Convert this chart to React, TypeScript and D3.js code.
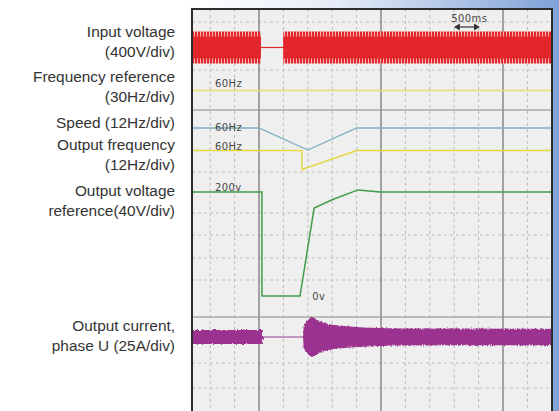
import React from "react";
import * as d3 from "d3";

// ---------- data ----------
// time in ms (0 = moment of supply loss, one minor division = 500 ms)
const timeDomain: [number, number] = [-1373, 6004];
const minorTicks = d3.range(-1000, 6001, 500);
const majorTicks = [0, 2500, 5000];

// input voltage: spans where the supply is present, peak volts
const supplySpans: [number, number][] = [[-1373, 40], [500, 6004]];
const inputPeakV = 310;

// frequency reference (Hz)
const freqRefT = [-1373, 6004];
const freqRefHz = [60, 60];

// speed (Hz)
const speedT = [-1373, 0, 1000, 2000, 6004];
const speedHz = [60, 60, 47.3, 60, 60];

// output frequency (Hz)
const outFreqT = [-1373, 880, 880, 2000, 6004];
const outFreqHz = [60, 60, 49, 60, 60];

// output voltage reference (V)
const voltT = [-1373, 60, 60, 840, 1130, 1520, 2030, 2480, 6004];
const voltV = [200, 200, 0, 0, 169, 186, 204, 200, 200];

// output current, phase U envelope (A peak)
const currentT = [-1373, 80, 80, 900, 920, 1000, 1086, 1200, 1400, 1800, 2300, 3000, 6004];
const currentA = [8.4, 8.4, 0, 0, 14, 20, 24, 20, 16, 13, 11, 10.2, 10];

const channelLabels = [
  ["Input voltage", "(400V/div)"],
  ["Frequency reference", "(30Hz/div)"],
  ["Speed (12Hz/div)"],
  ["Output frequency", "(12Hz/div)"],
  ["Output voltage", "reference(40V/div)"],
  ["Output current,", "phase U (25A/div)"],
];
const labelBaselines = [37, 82, 128, 150, 196, 331];

// ---------- layout ----------
const W = 559, H = 411;
const PL = 192, PR = 552, PT = 9;
const DIV = 20.8;

export default function App() {
  const x = d3.scaleLinear().domain(timeDomain).range([PL, PR]);
  const yIn = d3.scaleLinear().domain([0, 400]).range([47.5, 47.5 - DIV]);
  const yFreqRef = d3.scaleLinear().domain([60, 30]).range([90.5, 90.5 + DIV]);
  const ySpeed = d3.scaleLinear().domain([60, 48]).range([128, 128 + DIV]);
  const yOutF = d3.scaleLinear().domain([60, 48]).range([150.5, 150.5 + DIV]);
  const yVolt = d3.scaleLinear().domain([0, 200]).range([296, 192]);
  const yCur = d3.scaleLinear().domain([0, 25]).range([337, 337 - DIV]);

  const line = (ts: number[], vs: number[], ys: (v: number) => number) =>
    d3.line<number>().x((_, i) => x(ts[i])).y((v) => ys(v))(vs) || "";

  const zipped = currentT.map((t, i) => ({ t, a: currentA[i] }));
  const curArea = d3
    .area<{ t: number; a: number }>()
    .x((d) => x(d.t))
    .y0((d) => yCur(-d.a))
    .y1((d) => yCur(d.a))
    .curve(d3.curveMonotoneX)(zipped) || "";

  const inArea = (span: [number, number], frac: number) =>
    d3
      .area<number>()
      .x((t) => x(t))
      .y0(() => yIn(-inputPeakV * frac))
      .y1(() => yIn(inputPeakV * frac))(span) || "";

  const gridRows = [22, 70, 172, 213, 235, 258, 280, 363, 388];

  const scopeFont = {
    fontFamily: "DejaVu Sans, sans-serif",
    fontWeight: 400 as const,
    fontSize: 10,
    letterSpacing: 0.4,
    fill: "#484848",
  };

  return (
    <svg width={W} height={H} style={{ position: "absolute", left: 0, top: 0 }}>
      <defs>
        <linearGradient id="bg" x1="0" x2="1" y1="0" y2="0">
          <stop offset="0" stopColor="#ffffff" />
          <stop offset="0.4" stopColor="#e6ecf7" />
          <stop offset="1" stopColor="#7fa2d9" />
        </linearGradient>
        <pattern id="teeth" width="3" height="4" patternUnits="userSpaceOnUse">
          <rect x="0" y="0" width="2" height="4" fill="#e3262c" />
          <rect x="2" y="0" width="1" height="4" fill="#f2b8b8" />
        </pattern>
        <filter id="rough" x="-5%" y="-50%" width="110%" height="200%">
          <feTurbulence type="fractalNoise" baseFrequency="0.8 0.25" numOctaves="2" seed="4" result="n" />
          <feDisplacementMap in="SourceGraphic" in2="n" scale="3" xChannelSelector="R" yChannelSelector="G" />
        </filter>
        <clipPath id="panel">
          <rect x={PL} y={PT} width={PR - PL} height={H - PT + 10} />
        </clipPath>
      </defs>
      <rect x={0} y={0} width={W} height={H} fill="#ffffff" />
      <rect x={186} y={0} width={W - 186} height={H} fill="url(#bg)" />
      <rect x={PL} y={PT} width={PR - PL} height={H} fill="#efefef" />

      <g clipPath="url(#panel)">
        {/* grid */}
        {minorTicks
          .filter((t) => !majorTicks.includes(t))
          .map((t) => (
            <line key={"v" + t} x1={x(t)} x2={x(t)} y1={PT} y2={H} stroke="#bcbcbc" strokeWidth={1} strokeDasharray="3 3" />
          ))}
        {gridRows.map((r) => (
          <line key={"h" + r} x1={PL} x2={PR} y1={r} y2={r} stroke="#c0c0c0" strokeWidth={1} strokeDasharray="3 3" />
        ))}
        {majorTicks.map((t) => (
          <line key={"M" + t} x1={x(t)} x2={x(t)} y1={PT} y2={H} stroke="#6e6e6e" strokeWidth={1.2} />
        ))}
        {[110, 317].map((r) => (
          <line key={"S" + r} x1={PL} x2={PR} y1={r} y2={r} stroke="#8a8a8a" strokeWidth={1.2} />
        ))}

        {/* input voltage */}
        <line x1={x(supplySpans[0][1])} x2={x(supplySpans[1][0])} y1={yIn(0)} y2={yIn(0)} stroke="#e3262c" strokeWidth={1.2} />
        {supplySpans.map((s, i) => (
          <g key={"in" + i}>
            <path d={inArea(s, 1)} fill="url(#teeth)" />
            <path d={inArea(s, 0.68)} fill="#e3262c" />
          </g>
        ))}

        {/* frequency reference */}
        <path d={line(freqRefT, freqRefHz, yFreqRef)} fill="none" stroke="#e3df6a" strokeWidth={1.3} />
        {/* speed */}
        <path d={line(speedT, speedHz, ySpeed)} fill="none" stroke="#7fb0c2" strokeWidth={1.3} />
        {/* output frequency */}
        <path d={line(outFreqT, outFreqHz, yOutF)} fill="none" stroke="#e6d642" strokeWidth={1.5} />
        {/* output voltage reference */}
        <path d={line(voltT, voltV, yVolt)} fill="none" stroke="#3f9c48" strokeWidth={1.5} />

        {/* output current */}
        <line x1={x(80)} x2={x(900)} y1={yCur(0)} y2={yCur(0)} stroke="#9a3c8f" strokeWidth={1} />
        <path d={curArea} fill="#9c3190" filter="url(#rough)" />

        {/* scope annotations */}
        <text x={x(-900)} y={yFreqRef(60) - 3.5} {...scopeFont}>60Hz</text>
        <text x={x(-900)} y={ySpeed(60) + 2.5} {...scopeFont}>60Hz</text>
        <text x={x(-900)} y={yOutF(60) - 0.5} {...scopeFont}>60Hz</text>
        <text x={x(-900)} y={yVolt(200) - 1} {...scopeFont}>200v</text>
        <text x={x(1090)} y={yVolt(0) + 4} {...scopeFont}>0v</text>
        <text x={x(3940)} y={22} {...scopeFont}>500ms</text>
        <g stroke="#333" strokeWidth={1.2} fill="#333">
          <line x1={x(4020)} x2={x(4500)} y1={27} y2={27} />
          <path d={`M${x(4020)},27 l4,-2.5 v5 z`} />
          <path d={`M${x(4500)},27 l-4,-2.5 v5 z`} />
        </g>
      </g>
      <path d={`M${PL},${H + 2} V${PT} H${PR} V${H + 2}`} fill="none" stroke="#2c2c2c" strokeWidth={2} />

      {/* channel labels */}
      <g fontFamily="Liberation Sans, Arial, sans-serif" fontSize={15.4} fill="#333" textAnchor="end">
        {channelLabels.map((lines, i) => (
          <text key={i} x={175} y={labelBaselines[i]}>
            {lines.map((l, j) => (
              <tspan key={j} x={175} dy={j === 0 ? 0 : 19.5}>
                {l}
              </tspan>
            ))}
          </text>
        ))}
      </g>
    </svg>
  );
}
